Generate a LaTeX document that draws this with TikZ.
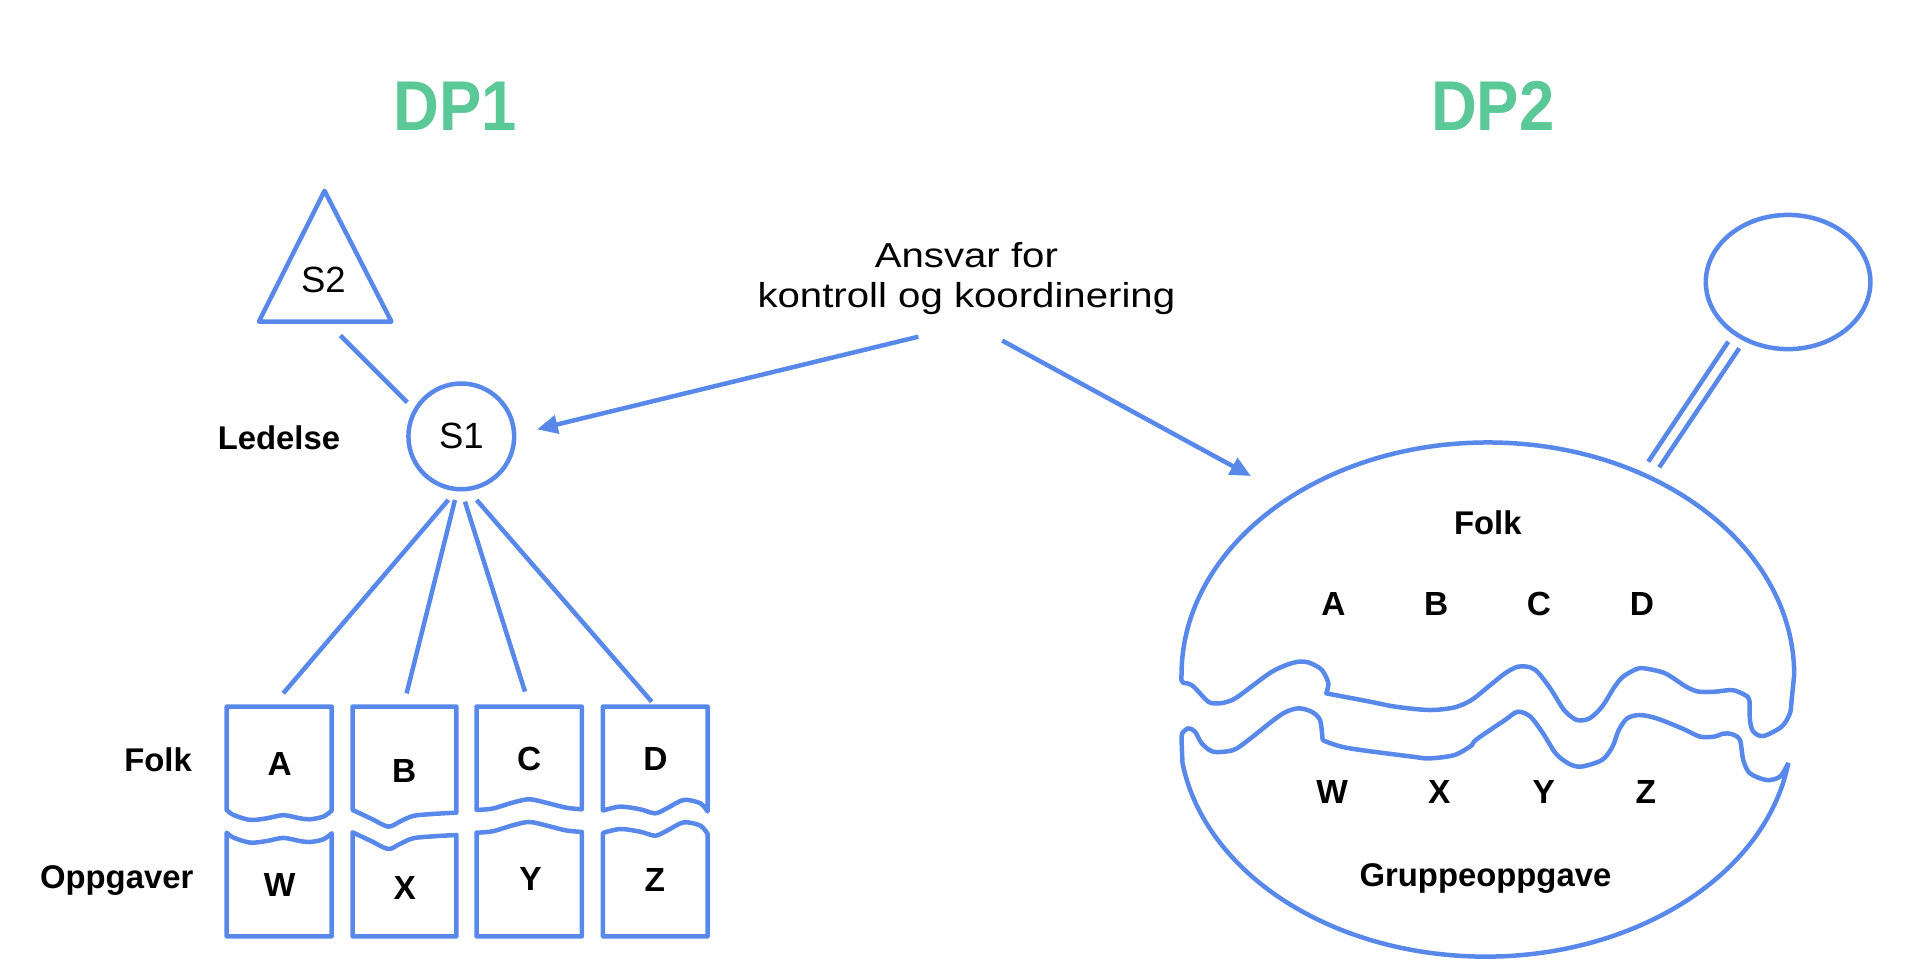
\documentclass[tikz,border=0pt]{standalone}
\usepackage{fontspec}
\setmainfont{Liberation Sans}
\newfontfamily\ansfont[FakeStretch=1.16]{Liberation Sans}
\newfontfamily\titlefont[FakeStretch=0.9]{Liberation Sans}
\usetikzlibrary{arrows.meta,shapes.geometric}
\definecolor{dpblue}{HTML}{5788EA}
\definecolor{dpgreen}{HTML}{5BC897}
\tikzset{
  ln/.style={draw=dpblue, line width=3.7pt, line join=round},
  arr/.style={ln, -{Triangle[length=17pt,width=15pt]}},
  lbl/.style={inner sep=0pt, font=\bfseries\fontsize{27}{30}\selectfont},
  let/.style={inner sep=0pt, font=\bfseries\fontsize{27.5}{30}\selectfont},
  reg/.style={inner sep=0pt, font=\fontsize{30}{34}\selectfont},
  ttl/.style={inner sep=0pt, text=dpgreen, font=\titlefont\bfseries\fontsize{58}{62}\selectfont}
}
\begin{document}
\begin{tikzpicture}[x=1pt,y=-1pt]
\useasboundingbox (0,0) rectangle (1568,798);

% titles
\node[ttl] (dp1) at (374.4,87.3) {DP1};
\node[ttl] (dp2) at (1228,87.3) {DP2};

% ---------- DP1 ----------
\draw[ln] (267,157) -- (322,264.5) -- (213,264.5) -- cycle;
\node[reg] (s2) at (266,230.3) {S2};
\node[ln, circle, minimum size=87pt, inner sep=0pt, font=\fontsize{30}{34}\selectfont] (s1) at (379.5,359) {S1};
\node[lbl, anchor=base] (ledelse) at (229.5,369.6) {Ledelse};

\coordinate (s2e) at (280,276);
\coordinate (s1n) at (335,331);
\draw[ln] (s2e) -- (s1n);

\coordinate (s1a) at (368.8,411.3);
\coordinate (s1b) at (374.3,411.3);
\coordinate (s1c) at (382.5,412.7);
\coordinate (s1d) at (392.1,411.3);
\coordinate (ta) at (233,570.4);
\coordinate (tb) at (334.5,570.4);
\coordinate (tc) at (431.9,569);
\coordinate (td) at (536.1,577.2);
\draw[ln] (s1a) -- (ta);
\draw[ln] (s1b) -- (tb);
\draw[ln] (s1c) -- (tc);
\draw[ln] (s1d) -- (td);

% box A / W
\begin{scope}[xshift=186.5pt]
\draw[ln] (0,666.3) -- (0,581.3) -- (86.4,581.3) -- (86.4,666.8) -- plot[smooth] coordinates {(86.4,666.8) (79.5,671.8) (68.5,674) (60.3,673.2) (46.6,670.6) (32.9,673.2) (19.2,674.5) (5.5,670.4) (0,666.3)} -- cycle;
\draw[ln] plot[smooth] coordinates {(0,685) (5.5,689) (19.2,693.2) (32.9,691.9) (46.6,689.3) (60.3,691.9) (68.5,692.7) (79.5,690.5) (86.4,685.5)} -- (86.4,770.3) -- (0,770.3) -- cycle;
\end{scope}
% box B / X
\begin{scope}[xshift=290pt]
\draw[ln] (0,666.3) -- (0,581.3) -- (85.5,581.3) -- (85.5,668.5) -- plot[smooth] coordinates {(85.5,668.5) (66.4,669.6) (49.9,671.2) (38.9,675.9) (29.3,680) (15,673.3) (0,666.3)} -- cycle;
\draw[ln] plot[smooth] coordinates {(0,684.7) (15,691.7) (29.3,698.4) (38.9,694.3) (49.9,689.6) (66.4,688) (85.5,686.9)} -- (85.5,770.3) -- (0,770.3) -- cycle;
\end{scope}
% box C / Y
\begin{scope}[xshift=392pt]
\draw[ln] (0,666.3) -- (0,581.3) -- (86.6,581.3) -- (86.6,665.8) -- plot[smooth] coordinates {(86.6,665.8) (73.5,664.4) (57,660.3) (43.3,657.5) (29.6,660.3) (13.2,665.2) (0,666.3)} -- cycle;
\draw[ln] plot[smooth] coordinates {(0,685) (13.2,683.9) (29.6,679) (43.3,676.2) (57,679) (73.5,683.1) (86.6,684.4)} -- (86.6,770.3) -- (0,770.3) -- cycle;
\end{scope}
% box D / Z
\begin{scope}[xshift=496pt]
\draw[ln] (0,666.8) -- (0,581.3) -- (86.1,581.3) -- (86.1,667.6) -- plot[smooth] coordinates {(86.1,667.6) (80.1,660.8) (66.4,658.1) (52.6,665) (43,669.1) (30.7,665.8) (14.3,663.6) (0,666.8)} -- cycle;
\draw[ln] plot[smooth] coordinates {(0,685.2) (14.3,682) (30.7,684.2) (43,687.5) (52.6,683.4) (66.4,676.5) (80.1,679.2) (86.1,686)} -- (86.1,770.3) -- (0,770.3) -- cycle;
\end{scope}

\node[let] (la) at (230,628.4) {A};
\node[let] (lb) at (332.5,634.5) {B};
\node[let] (lc) at (435.3,624.1) {C};
\node[let] (ld) at (539.2,624.5) {D};
\node[let] (lw) at (230,727.8) {W};
\node[let] (lx) at (332.9,730.8) {X};
\node[let] (ly) at (436.4,723.3) {Y};
\node[let] (lz) at (538.8,723.9) {Z};

\node[lbl, anchor=base] (folk1) at (130,634.7) {Folk};
\node[lbl, anchor=base] (oppg) at (96,731) {Oppgaver};

% ---------- middle text and arrows ----------
\node[inner sep=0pt, align=center, font=\ansfont\fontsize{28.5}{33}\selectfont] (ansvar) at (795,229) {Ansvar for\\kontroll og koordinering};
\coordinate (arl) at (755.5,277);
\coordinate (arr) at (824.5,280.2);
\coordinate (tipl) at (441.8,353.2);
\coordinate (tipr) at (1029.1,391.6);
\draw[arr] (arl) -- (tipl);
\draw[arr] (arr) -- (tipr);

% ---------- DP2 ----------
% upper part
\draw[ln] (972,555) arc[start angle=180, end angle=0, x radius=252pt, y radius=191pt]
 -- plot[smooth] coordinates {(1476,555) (1473.9,575.8) (1472.5,586.8) (1465.7,597.8) (1450.6,605.5) (1442.4,601.9) (1439.6,592.3) (1439.1,575.9) (1435.6,571.8) (1425.2,567.7) (1411.4,569) (1397.5,569) (1387.1,564.9) (1369.8,553.9) (1352.5,549.8) (1345.6,550.7) (1335.2,556.7) (1328.3,564.9) (1317.9,581.4) (1307.5,591) (1297.1,592.3) (1286.7,584.1) (1276.3,567.7) (1265.9,553.9) (1259,549) (1248.6,548.5) (1238.2,553.9) (1224.4,564.9) (1210.5,575.9) (1196.7,581.9) (1175.9,584.1) (1148.2,581.4) (1127.4,577.3) (1091.1,570.4)}
 -- plot[smooth] coordinates {(1091.1,570.4) (1092.8,562.2) (1089.3,553.9) (1085.9,549.8) (1077.2,545.2) (1068.6,544.3) (1058.2,547.1) (1044.3,553.9) (1018.4,573.1) (1009.7,577.3) (1002.8,578.6) (994.1,577.3) (982,564.9) (976.8,562.2) (973.3,561.6) (971.8,559) (972,555)} -- cycle;
% lower part
\draw[ln] (1471.2,627.6) arc[start angle=-8.5, end angle=-171.5, x radius=252pt, y radius=187pt]
 -- plot[smooth] coordinates {(972.8,627.6) (972.1,610) (972.6,603.3) (977.6,599.2) (983.1,601.9) (988.6,611.5) (998.1,618.4) (1014.6,617) (1027,608.8) (1047.8,592.3) (1058.2,585.5) (1068.6,582.7) (1079,585.5) (1085.9,592.3) (1088,608)}
 -- plot[smooth] coordinates {(1088,608) (1091.1,610.2) (1110.1,615.6) (1162.1,622.5) (1175.9,623.9) (1196.7,621.1) (1211,613)}
 -- plot[smooth] coordinates {(1211,613) (1214,608.8) (1227.8,599.2) (1238.2,592.3) (1248.6,585.5) (1259,589.6) (1269.4,603.3) (1279.8,619.8) (1290.2,628) (1300.5,630.7) (1317.9,625.2) (1326.5,614.3) (1331.7,600.6) (1338.6,591) (1349,588.2) (1362.9,591) (1383.7,599.2) (1398.5,606) (1410,606) (1418,603.5) (1425,604) (1431.4,608.8) (1434.1,625.2) (1439.6,636.2) (1453.3,641.7) (1464.3,638.9) (1471.2,627.6)};

% stick and small ellipse
\coordinate (st1a) at (1421.8,281.1);
\coordinate (st1b) at (1356,379.8);
\coordinate (st2a) at (1430.8,286.5);
\coordinate (st2b) at (1365,384.4);
\draw[ln] (st1a) -- (st1b);
\draw[ln] (st2a) -- (st2b);
\node[ln, ellipse, minimum width=135.4pt, minimum height=110.4pt, inner sep=0pt] (head) at (1471,232) {};

\node[lbl, anchor=base] (folk2) at (1224,440) {Folk};
\node[let, anchor=base] (ra) at (1097,506.7) {A};
\node[let, anchor=base] (rb) at (1181.4,506.7) {B};
\node[let, anchor=base] (rc) at (1266,506.7) {C};
\node[let, anchor=base] (rd) at (1350.7,506.7) {D};
\node[let, anchor=base] (rw) at (1096,661) {W};
\node[let, anchor=base] (rx) at (1184,661) {X};
\node[let, anchor=base] (ry) at (1270,661) {Y};
\node[let, anchor=base] (rz) at (1354,661) {Z};
\node[lbl, anchor=base] (grp) at (1222,729) {Gruppeoppgave};
\end{tikzpicture}
\end{document}
